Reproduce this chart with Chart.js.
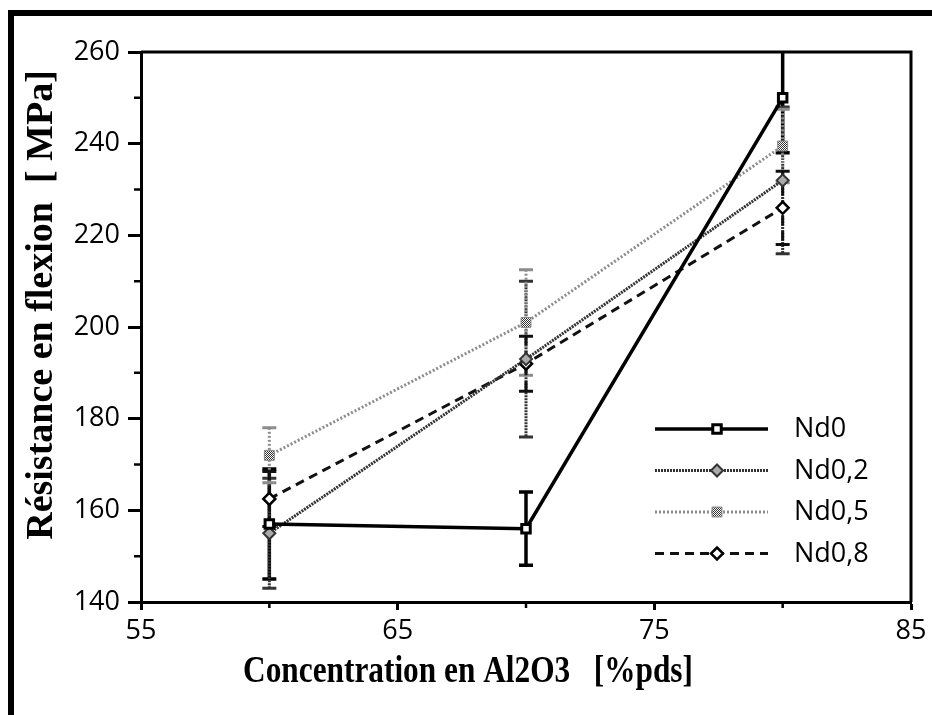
<!DOCTYPE html>
<html><head><meta charset="utf-8">
<style>html,body{margin:0;padding:0;background:#fff;overflow:hidden}#wrap{position:relative;width:932px;height:715px;}</style>
<script src="https://cdn.jsdelivr.net/npm/chart.js@4.4.1/dist/chart.umd.min.js"></script>
</head><body><div id="wrap"><canvas id="c" width="932" height="715"></canvas></div>
<script>
// ---- data ----
const concentrations = [60, 70, 80];
const seriesNames = ['Nd0', 'Nd0,2', 'Nd0,5', 'Nd0,8'];
const nd0 = [157, 156, 250];
const nd0Err = [12, 8, 12];
const nd02 = [155, 193, 232];
const nd02Err = [12, 17, 16];
const nd05 = [172, 201, 239.5];
const nd05Err = [6, 11.5, 8];
const nd08 = [162.5, 192, 226];
const nd08Err = [6, 6, 8];
const xTickValues = [55, 65, 75, 85];
const xMinorTicks = [60, 70, 80];
const yTickValues = [140, 160, 180, 200, 220, 240, 260];
const yMinorTicks = [150, 170, 190, 210, 230, 250];
const xTitle = 'Concentration en Al2O3   [%pds]';
const yTitle = 'Résistance en flexion  [ MPa]';

function checker() {
  const c = document.createElement('canvas'); c.width = 2; c.height = 2;
  const g = c.getContext('2d');
  g.fillStyle = '#fff'; g.fillRect(0, 0, 2, 2);
  g.fillStyle = '#333'; g.fillRect(0, 0, 1, 1); g.fillRect(1, 1, 1, 1);
  return g.createPattern(c, 'repeat');
}
const pattern = checker();

const styles = [
  {color: '#000', width: 3.5, dash: [], point: 'rect', radius: 6, pbg: '#fff', pborder: '#000', pbw: 3},
  {color: '#333', width: 3, dash: [2, 1], point: 'rectRot', radius: 6, pbg: '#aaa', pborder: '#333', pbw: 2},
  {color: '#8c8c8c', width: 3, dash: [2, 2], point: 'rect', radius: 7, pbg: pattern, pborder: '#888', pbw: 1},
  {color: '#111', width: 3, dash: [9, 6], point: 'rectRot', radius: 6, pbg: '#fff', pborder: '#000', pbw: 2.5}
];
const values = [nd0, nd02, nd05, nd08];
const errors = [nd0Err, nd02Err, nd05Err, nd08Err];

const datasets = seriesNames.map((name, k) => ({
  label: name,
  data: concentrations.map((x, i) => ({x: x, y: values[k][i]})),
  errors: errors[k],
  st: styles[k],
  borderColor: styles[k].color,
  borderWidth: styles[k].width,
  borderDash: styles[k].dash,
  pointStyle: styles[k].point,
  pointRadius: styles[k].radius,
  pointBackgroundColor: styles[k].pbg,
  pointBorderColor: styles[k].pborder,
  pointBorderWidth: styles[k].pbw,
  tension: 0,
  fill: false
}));

const decor = {
  id: 'decor',
  beforeDraw(chart) {
    const ctx = chart.ctx;
    ctx.save();
    ctx.fillStyle = '#fff';
    ctx.fillRect(0, 0, chart.width, chart.height);
    ctx.fillStyle = '#000';
    ctx.fillRect(8, 10, 6, chart.height);
    ctx.fillRect(8, 10, chart.width, 6);
    ctx.restore();
  },
  beforeDatasetsDraw(chart) {
    const ctx = chart.ctx, a = chart.chartArea;
    const xs = chart.scales.x, ys = chart.scales.y;
    ctx.save();
    ctx.beginPath(); ctx.rect(a.left, a.top - 1, a.right - a.left, a.bottom - a.top + 2); ctx.clip();
    chart.data.datasets.forEach(ds => {
      const st = ds.st;
      ctx.strokeStyle = st.color; ctx.lineWidth = st.width;
      ds.data.forEach((p, i) => {
        const e = ds.errors[i];
        const px = xs.getPixelForValue(p.x);
        const y1 = ys.getPixelForValue(p.y + e), y2 = ys.getPixelForValue(p.y - e);
        ctx.setLineDash(st.dash);
        ctx.beginPath(); ctx.moveTo(px, y1); ctx.lineTo(px, y2); ctx.stroke();
        ctx.setLineDash([]);
        ctx.beginPath();
        ctx.moveTo(px - 7, y1); ctx.lineTo(px + 7, y1);
        ctx.moveTo(px - 7, y2); ctx.lineTo(px + 7, y2);
        ctx.stroke();
      });
    });
    ctx.restore();
  },
  afterDraw(chart) {
    const ctx = chart.ctx, a = chart.chartArea;
    const xs = chart.scales.x, ys = chart.scales.y;
    ctx.save();
    ctx.strokeStyle = '#000'; ctx.lineWidth = 3;
    ctx.beginPath();
    ctx.moveTo(a.left, a.top); ctx.lineTo(a.right, a.top); ctx.lineTo(a.right, a.bottom);
    ctx.stroke();
    ctx.lineWidth = 2.5;
    ctx.beginPath();
    yMinorTicks.forEach(v => { const y = ys.getPixelForValue(v); ctx.moveTo(a.left - 7, y); ctx.lineTo(a.left, y); });
    xMinorTicks.forEach(v => { const x = xs.getPixelForValue(v); ctx.moveTo(x, a.bottom); ctx.lineTo(x, a.bottom + 6); });
    ctx.stroke();

    // axis titles
    ctx.fillStyle = '#000';
    ctx.textAlign = 'center'; ctx.textBaseline = 'middle';
    ctx.font = 'bold 38px "Liberation Serif"';
    ctx.save(); ctx.translate(42, 305); ctx.rotate(-Math.PI / 2);
    ctx.fillText(yTitle, 0, 0, 486);
    ctx.restore();
    ctx.font = 'bold 38px "Liberation Serif"';
    ctx.fillText(xTitle, 468, 672, 450);

    // legend
    const rows = [429, 470.5, 512, 553.5];
    chart.data.datasets.forEach((ds, k) => {
      const st = ds.st, y = rows[k];
      ctx.strokeStyle = st.color; ctx.lineWidth = st.width; ctx.setLineDash(st.dash);
      ctx.beginPath(); ctx.moveTo(655, y); ctx.lineTo(768, y); ctx.stroke();
      ctx.setLineDash([]);
      const cx = 717, r = st.radius;
      ctx.fillStyle = st.pbg; ctx.strokeStyle = st.pborder; ctx.lineWidth = st.pbw;
      ctx.beginPath();
      if (st.point === 'rect') {
        const s = r * Math.SQRT1_2;
        ctx.rect(cx - s, y - s, 2 * s, 2 * s);
      } else {
        ctx.moveTo(cx, y - r); ctx.lineTo(cx + r, y); ctx.lineTo(cx, y + r); ctx.lineTo(cx - r, y); ctx.closePath();
      }
      ctx.fill(); ctx.stroke();
      ctx.fillStyle = '#000';
      ctx.font = '27px "Open Sans"'; ctx.textAlign = 'left'; ctx.textBaseline = 'alphabetic';
      ctx.fillText(ds.label, 794, y + 8);
    });
    ctx.restore();
  }
};

new Chart(document.getElementById('c'), {
  type: 'line',
  data: {datasets: datasets},
  plugins: [decor],
  options: {
    responsive: false, animation: false, devicePixelRatio: 1,
    layout: {padding: {left: 0, right: 21, top: 52, bottom: 0}},
    plugins: {legend: {display: false}, tooltip: {enabled: false}},
    scales: {
      x: {
        type: 'linear', min: 55, max: 85,
        afterBuildTicks: s => { s.ticks = xTickValues.map(v => ({value: v})); },
        afterFit: s => { s.height = 113; },
        ticks: {font: {family: 'Open Sans', size: 27}, color: '#000', padding: 5, maxRotation: 0, autoSkip: false},
        grid: {drawOnChartArea: false, tickLength: 8, tickWidth: 3, tickColor: '#000'},
        border: {color: '#000', width: 3}
      },
      y: {
        type: 'linear', min: 140, max: 260,
        afterBuildTicks: s => { s.ticks = yTickValues.map(v => ({value: v})); },
        afterFit: s => { s.width = 141; },
        ticks: {font: {family: 'Open Sans', size: 27}, color: '#000', padding: 8, autoSkip: false},
        grid: {drawOnChartArea: false, tickLength: 13, tickWidth: 3, tickColor: '#000'},
        border: {color: '#000', width: 3}
      }
    }
  }
});
</script>
</body></html>
